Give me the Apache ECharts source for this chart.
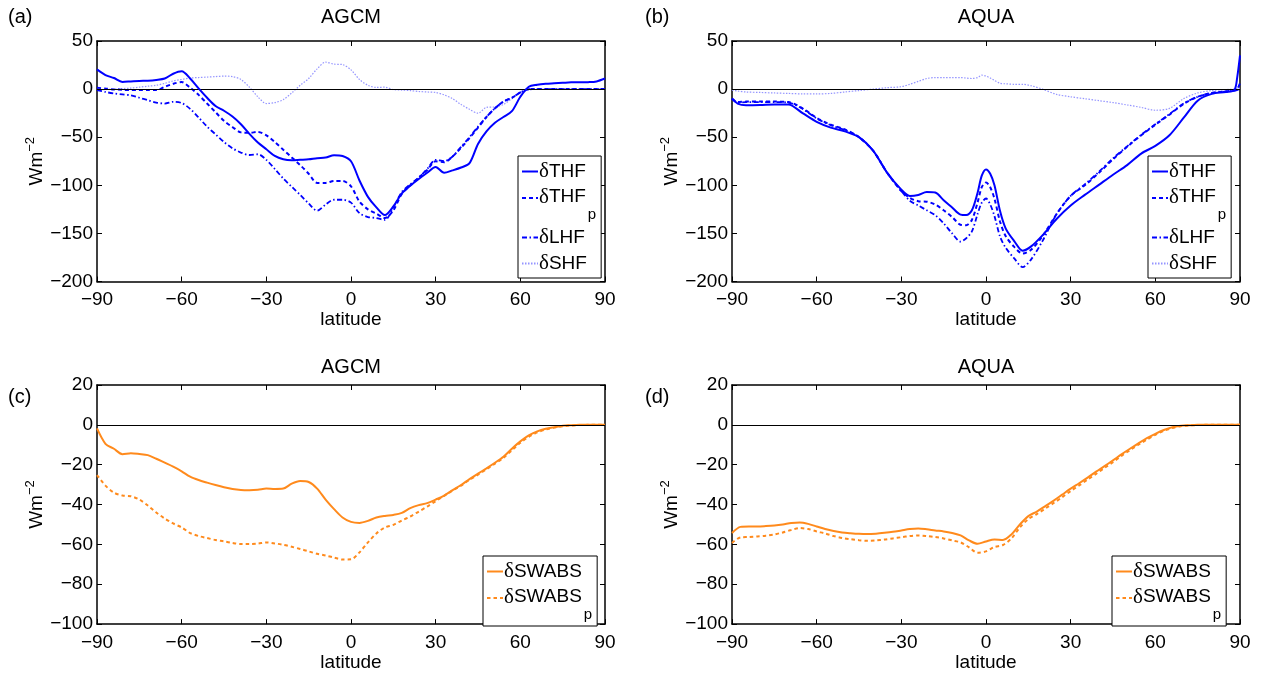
<!DOCTYPE html>
<html><head><meta charset="utf-8">
<script src="https://cdn.jsdelivr.net/npm/echarts@6/dist/echarts.min.js"></script>
<style>html,body{margin:0;padding:0;background:#fff}#c{width:1268px;height:673px}</style>
</head><body><div id="c"></div>
<script>
// ---------- data (latitude grids and values, W m^-2) ----------
const latA = [-90,-87,-84,-81,-78,-75,-72,-69,-66,-63,-60,-57,-54,-51,-48,-45,-42,-39,-36,-33,-30,-27,-24,-21,-18,-15,-12,-9,-6,-3,0,3,6,9,12,15,18,21,24,27,30,33,36,39,42,45,48,51,54,57,60,63,66,69,72,75,78,81,84,87,90];
const thfA  = [20.5,14.6,11.5,7.5,8,8.5,8.7,9.5,11,16,18.5,11,0.7,-9,-17.5,-22.5,-28.5,-36.5,-46.5,-55.5,-62.5,-69.5,-73,-74,-73.5,-73,-71.8,-71.2,-68.7,-69.5,-75,-95,-112,-123,-131,-122,-108.5,-100.5,-93.5,-87,-81,-87,-84.5,-81.5,-77,-57,-44,-35,-29,-23,-8,2.5,4.5,5.5,6,6.5,7,7,7.2,8,11];
const thfpA = [1.5,0.5,-0.3,-0.7,-1,-1,-1,-1,2.4,5.5,7.3,1.5,-6,-15,-24,-33,-39.5,-45,-45.5,-44.5,-48,-55,-63,-71,-79,-88,-97.5,-97.5,-95.5,-95.5,-101,-117,-125,-129.5,-134,-126,-109,-100,-92,-84,-75,-76,-70,-61,-51,-40,-29,-20,-13,-9,-3.5,0,0,0,0,0,0,0,0,0,0];
const lhfA  = [-1,-3,-4.5,-5.5,-6.5,-9,-11.5,-14,-15,-13.2,-14.5,-20.5,-29.5,-39,-47,-55,-61.5,-66,-68.5,-67.7,-73.5,-83,-93,-101.5,-110,-119,-126.4,-120,-115,-115,-118,-129,-133,-134,-136,-123,-107,-99,-92,-83,-73.5,-75,-70,-60,-50,-39,-29,-20,-13,-9,-3.5,0,0,0,0,0,0,0,0,0,0];
const shfA  = [-1,-0.5,0,0.5,1,2,3,4,6,8.5,10,11.5,12,12.5,13,13.5,13,10,2,-8,-15,-14,-11,-4,4,11,21,28,26,25.5,20,10,4,1.7,2,-0.5,-1,-1.5,-2.5,-3,-3.5,-6,-10,-16,-21,-25,-19,-18.5,-16,-10,-4,-1,0,0,0,0,0,0,0,0,0];

const latB = [-90,-88,-85,-80,-75,-70,-65,-60,-55,-50,-45,-40,-35,-30,-27,-24,-21,-18,-15,-12,-9,-7,-5,-3,-1.5,0,1.5,3,5,7,10,13,16,20,25,30,35,40,45,50,55,60,65,70,75,80,85,88,89,90];
const thfB  = [-9.7,-15,-16.7,-16.5,-16,-16,-25,-34,-40,-44,-50,-64,-87,-104.5,-111,-110,-107,-107.5,-115.5,-123,-130.5,-131,-126,-108,-90,-83.5,-88,-100,-127,-145,-158,-168,-163.5,-152,-135,-121,-110,-99.5,-89,-79,-67,-59,-48,-30,-12,-5,-3,-1,12,35];
const thfpB = [-10,-13.5,-13,-13,-13,-13.5,-20,-30,-37,-42,-50,-64,-87,-106,-113,-116.5,-117,-120,-126,-133,-141,-141.5,-136,-118,-102,-97,-102,-114,-138,-153,-164,-171,-167,-153,-130,-111,-100,-87,-73,-60,-48,-37,-26.5,-15.5,-8,-4,-2.3,-1.5,0,6];
const lhfB  = [-10,-14,-13.5,-13.5,-13.5,-14,-20.5,-30.5,-37.5,-42.5,-50,-64,-87,-106,-116,-121,-126,-131,-139.5,-150,-158.5,-155,-148,-130,-118,-113.7,-120,-132,-153.5,-165,-176,-185,-177,-158,-130,-111,-99,-86,-72,-59.5,-47.5,-36.5,-26,-15,-8,-4,-2.5,-1.5,-1,0];
const shfB  = [-1,-2,-3,-3.5,-4,-4.5,-5,-5,-4.5,-3,-1.5,0,1.5,2.5,5,8,11,12,12,12,12,11.5,11,12,14.5,13.5,11.5,9,6,5.5,5,5,3.5,0,-5.5,-8,-10,-12,-14,-16.5,-19,-22,-20,-10,-4,-1.5,-0.5,0,0.5,1];

const latC = [-90,-87,-84,-81,-78,-75,-72,-69,-66,-63,-60,-57,-54,-51,-48,-45,-42,-39,-36,-33,-30,-27,-24,-21,-18,-15,-12,-9,-6,-3,0,3,6,9,12,15,18,21,24,27,30,33,36,39,42,45,48,51,54,57,60,63,66,69,72,75,78,81,84,87,90];
const swC  = [-1.8,-9.5,-12,-14.7,-14.2,-14.6,-15.2,-17,-19,-21,-23.3,-26,-27.7,-29,-30.2,-31.3,-32.2,-32.7,-32.8,-32.6,-32,-32.2,-32,-29.5,-28.2,-28.7,-32,-37.5,-42.3,-46.5,-48.7,-49.2,-48.2,-46.5,-45.7,-45.2,-44.2,-41.8,-40.3,-39.3,-37.5,-35.5,-32.8,-30.2,-27.2,-24.5,-21.8,-19,-16,-12,-8.3,-5.3,-3.3,-2,-1.2,-0.5,-0.2,0,0,0,0];
const swpC = [-25.2,-30.5,-34,-35.5,-35.8,-37.5,-40.5,-44,-47,-49.5,-51.5,-54.3,-55.8,-56.8,-57.8,-58.5,-59.3,-59.8,-59.8,-59.6,-59,-59.5,-60.2,-61.2,-62.3,-63.5,-64.7,-65.6,-66.6,-67.6,-67.5,-64,-59,-54.5,-51.5,-50.2,-48,-46,-43.5,-41,-38.3,-35.6,-33,-30.5,-27.6,-25,-22.3,-19.5,-16.5,-12.8,-9,-6,-3.8,-2.3,-1.4,-0.7,-0.3,-0.1,0,0,0];
const swD  = [-54.3,-51.2,-51,-51,-50.8,-50.5,-50,-49.3,-49,-49.7,-51,-52.3,-53.3,-54,-54.4,-54.7,-54.8,-54.6,-54.2,-53.7,-53,-52.3,-52,-52.4,-53,-53.5,-54.3,-55.5,-58,-59.7,-58.5,-57.5,-57.8,-55,-50,-45.8,-43.5,-40.8,-38,-35,-32,-29.3,-26.5,-23.5,-20.7,-17.8,-14.8,-12,-9.3,-6.7,-4.5,-2.6,-1.2,-0.5,-0.2,0,0,0,0,0,0];
const swpD = [-59.3,-56.5,-56.3,-56,-55.6,-55,-54,-52.8,-51.8,-52.3,-53.5,-54.5,-55.8,-56.8,-57.4,-57.9,-58.2,-58,-57.6,-57,-56.4,-55.8,-55.5,-55.8,-56.3,-57,-58,-59,-61.5,-64.2,-63.5,-61.3,-60.3,-57,-51.5,-47.3,-44.8,-42,-39.2,-36.3,-33.2,-30.4,-27.5,-24.6,-21.6,-18.7,-15.6,-12.7,-10,-7.4,-5,-3,-1.6,-0.7,-0.3,-0.1,0,0,0,0,0];

const panelTitles = ['AGCM','AQUA','AGCM','AQUA'];
const panelLetters = ['(a)','(b)','(c)','(d)'];

// ---------- style ----------
const FONT = '"Liberation Sans", Arial, Helvetica, sans-serif';
const SERIF = '"Liberation Serif", "Times New Roman", serif';
const BLUE = '#0000ff', LIGHT = '#9494ff', ORANGE = '#ff8a1c';

const grids = [
  {left:97, top:41, width:508, height:240.5},
  {left:732, top:41, width:508, height:240.5},
  {left:97, top:385, width:508, height:240},
  {left:732, top:385, width:508, height:240}
];
const yRange = [[-200,50,50],[-200,50,50],[-100,20,20],[-100,20,20]];

const fmt = v => String(v).replace('-', '\u2212');
const tick = {show:true, inside:true, length:5, lineStyle:{color:'#000', width:1}};
const aline = {show:true, onZero:false, lineStyle:{color:'#000', width:1.5}};

const xAxes = [], yAxes = [];
grids.forEach((g, gi) => {
  ['bottom','top'].forEach(pos => xAxes.push({
    type:'value', gridIndex:gi, position:pos, min:-90, max:90, interval:30,
    axisLine:aline, axisTick:tick, splitLine:{show:false},
    axisLabel:{show:pos==='bottom', color:'#000', fontSize:19, fontFamily:FONT, margin:9, formatter:fmt},
    name: pos==='bottom' ? 'latitude' : '', nameLocation:'middle', nameGap:23,
    nameTextStyle:{color:'#000', fontSize:19, fontFamily:FONT}
  }));
  const [mn, mx, iv] = yRange[gi];
  ['left','right'].forEach(pos => yAxes.push({
    type:'value', gridIndex:gi, position:pos, min:mn, max:mx, interval:iv,
    axisLine:aline, axisTick:tick, splitLine:{show:false},
    axisLabel:{show:pos==='left', color:'#000', fontSize:19, fontFamily:FONT, margin:4, formatter:fmt},
    name: pos==='left' ? '{a|Wm}{b|\u22122}' : '', nameLocation:'middle', nameGap:44,
    nameTextStyle:{color:'#000', fontFamily:FONT, rich:{
      a:{fontSize:19, lineHeight:22, padding:[4,0,0,0], verticalAlign:'bottom', fontFamily:FONT, color:'#000'},
      b:{fontSize:13, lineHeight:13, verticalAlign:'top', fontFamily:FONT, color:'#000'}
    }}
  }));
});

const zeroLine = {silent:true, symbol:['none','none'], label:{show:false}, animation:false,
  lineStyle:{color:'#000', width:1, type:'solid'}, emphasis:{disabled:true}, data:[{yAxis:0}]};

function mk(name, gi, lat, vals, ls, z, zero) {
  const s = {
    name, type:'line', xAxisIndex:gi*2, yAxisIndex:gi*2, z,
    data: lat.map((x, i) => [x, vals[i]]),
    symbol:'none', showSymbol:false, smooth:0.3, animation:false,
    lineStyle: ls, itemStyle:{color: ls.color}, emphasis:{disabled:true}
  };
  if (zero) s.markLine = zeroLine;
  return s;
}
const sTHF  = {color:BLUE, width:2, type:'solid'};
const sTHFp = {color:BLUE, width:2, type:[4,3]};
const sLHF  = {color:BLUE, width:1.8, type:[5,2.5,1.5,2.5]};
const sSHF  = {color:LIGHT, width:1.2, type:[1.5,1.5]};
const sSW   = {color:ORANGE, width:2, type:'solid'};
const sSWp  = {color:ORANGE, width:2, type:[3.5,3]};

const series = [
  mk('a_SHF',0,latA,shfA,sSHF,2,true), mk('a_LHF',0,latA,lhfA,sLHF,3), mk('a_THFp',0,latA,thfpA,sTHFp,4), mk('a_THF',0,latA,thfA,sTHF,5),
  mk('b_SHF',1,latB,shfB,sSHF,2,true), mk('b_LHF',1,latB,lhfB,sLHF,3), mk('b_THFp',1,latB,thfpB,sTHFp,4), mk('b_THF',1,latB,thfB,sTHF,5),
  mk('c_SWp',2,latC,swpC,sSWp,3,true), mk('c_SW',2,latC,swC,sSW,4),
  mk('d_SWp',3,latC,swpD,sSWp,3,true), mk('d_SW',3,latC,swD,sSW,4)
];

const LABEL = {
  a_THF:'{d|δ}{m|THF}', a_THFp:'{dt|δ}{mt|THF}{s|p}', a_LHF:'{d|δ}{m|LHF}', a_SHF:'{d|δ}{m|SHF}',
  b_THF:'{d|δ}{m|THF}', b_THFp:'{dt|δ}{mt|THF}{s|p}', b_LHF:'{d|δ}{m|LHF}', b_SHF:'{d|δ}{m|SHF}',
  c_SW:'{d|δ}{m|SWABS}', c_SWp:'{dt|δ}{mt|SWABS}{s|p}', d_SW:'{d|δ}{m|SWABS}', d_SWp:'{dt|δ}{mt|SWABS}{s|p}'
};
const RICH = {
  d:{fontFamily:SERIF, fontSize:21, lineHeight:22, color:'#000'},
  m:{fontFamily:FONT, fontSize:19, lineHeight:22, color:'#000'},
  dt:{fontFamily:SERIF, fontSize:21, lineHeight:22, verticalAlign:'top', color:'#000'},
  mt:{fontFamily:FONT, fontSize:19, lineHeight:22, verticalAlign:'top', color:'#000'},
  s:{fontFamily:FONT, fontSize:15, lineHeight:15, padding:[20,0,0,2], verticalAlign:'top', color:'#000'}
};
function legend(names, left, top) {
  return {show:true, orient:'vertical', left, top, data:names, itemWidth:16, itemHeight:10, itemGap:5,
    padding:[5,5,4,3], borderColor:'#000', borderWidth:1, borderRadius:0, backgroundColor:'#fff',
    selectedMode:false, formatter:n => LABEL[n],
    itemStyle:{opacity:0, borderWidth:0},
    textStyle:{color:'#000', fontSize:19, fontFamily:FONT, padding:[0,0,0,-4], rich:RICH}};
}
const legends = [
  legend(['a_THF','a_THFp','a_LHF','a_SHF'], 518, 156),
  legend(['b_THF','b_THFp','b_LHF','b_SHF'], 1148, 156),
  legend(['c_SW','c_SWp'], 483, 556),
  legend(['d_SW','d_SWp'], 1112, 556)
];

const titlePos = [[351,17],[986,17],[351,367],[986,367]];
const letterPos = [[8,17],[645,17],[8,397],[645,397]];
const graphics = [];
panelTitles.forEach((t, i) => graphics.push({type:'text', x:titlePos[i][0], y:titlePos[i][1], silent:true,
  style:{text:t, fill:'#000', font:'20px ' + FONT, textAlign:'center', textVerticalAlign:'middle'}}));
panelLetters.forEach((t, i) => graphics.push({type:'text', x:letterPos[i][0], y:letterPos[i][1], silent:true,
  style:{text:t, fill:'#000', font:'20px ' + FONT, textAlign:'left', textVerticalAlign:'middle'}}));

const chart = echarts.init(document.getElementById('c'), null, {renderer:'canvas'});
chart.setOption({
  animation:false, backgroundColor:'#fff',
  grid: grids, xAxis: xAxes, yAxis: yAxes, series, legend: legends, graphic: graphics
});
</script></body></html>
